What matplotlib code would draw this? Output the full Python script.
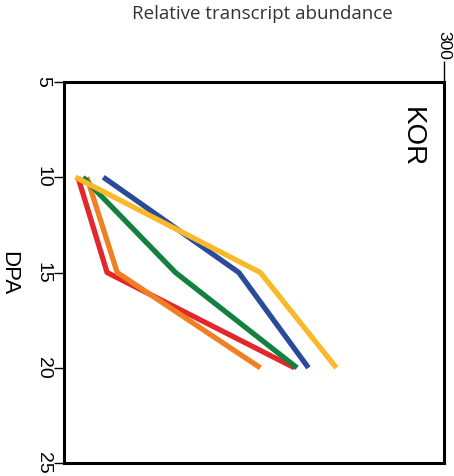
import numpy as np
import matplotlib.pyplot as plt

plt.rcParams["font.family"] = "sans-serif"
plt.rcParams["font.sans-serif"] = "Liberation Sans"

FONTSIZE = 14

dpa = [10, 15, 20]
blue = [31, 138, 193]
red = [11, 34, 182]
orange = [18, 42, 155]
green = [15, 88, 184]
yellow = [9, 155, 215]

series = [
    (blue, "#2a4b9b"),
    (red, "#e3272a"),
    (orange, "#f08022"),
    (green, "#13803f"),
    (yellow, "#f9b92a"),
]

fig = plt.figure(figsize=(4.54, 4.76), dpi=100)
ax = fig.add_axes([0.141, 0.027, 0.837, 0.801])

for vals, c in series:
    ax.plot(vals, dpa, color=c, lw=3.8, solid_capstyle="butt")

ax.set_xlim(0, 300)
ax.set_ylim(25, 5)

ax.xaxis.tick_top()
ax.set_xticks([300])
ax.set_xticklabels(["300"], rotation=-90)
ax.set_yticks([5, 10, 15, 20, 25])
ax.set_yticklabels(["5", "10", "15", "20", "25"], rotation=-90, va="center")
ax.tick_params(axis="y", length=7, width=1, pad=2, labelsize=FONTSIZE)
ax.tick_params(axis="x", length=15, width=1, pad=1, labelsize=12.5)
for s in ax.spines.values():
    s.set_linewidth(2.2)

ax.text(0.916, 0.856, "KOR", transform=ax.transAxes, rotation=-90,
        ha="center", va="center", fontsize=20)
fig.text(262 / 454, 1 - 14 / 476, "Relative transcript abundance",
         ha="center", va="center", fontsize=13.5, color="#333333",
         family="Open Sans")
fig.text(9 / 454, 1 - 273 / 476, "DPA", rotation=-90,
         ha="center", va="center", fontsize=16)

plt.savefig("out.png", dpi=100)
